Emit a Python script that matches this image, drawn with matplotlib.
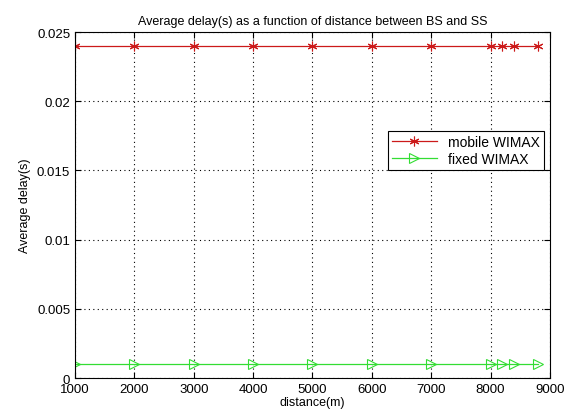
import matplotlib.pyplot as plt

plt.rcParams['font.family'] = ['Liberation Sans', 'DejaVu Sans']

# distance between BS and SS (m)
distance = [1000, 2000, 3000, 4000, 5000, 6000, 7000, 8000, 8200, 8400, 8800]
# average delay (s)
mobile_delay = [0.024] * 11
fixed_delay = [0.001] * 11

fig = plt.figure(figsize=(5.66, 4.14), dpi=100)
ax = fig.add_axes([0.1325, 0.0845, 0.839, 0.8355])

ax.plot(distance, mobile_delay, color='#cc1a1a', linewidth=0.9, marker=(6, 2, 0),
        markersize=7, markeredgewidth=0.8, label='mobile WIMAX')
ax.plot(distance, fixed_delay, color='#33dd33', linewidth=0.9, marker='>',
        markersize=7, markerfacecolor='none', markeredgewidth=0.8,
        label='fixed WIMAX')

ax.set_xlim(1000, 9000)
ax.set_ylim(0, 0.025)
ax.set_xticks(range(1000, 9001, 1000))
ax.set_yticks([0, 0.005, 0.01, 0.015, 0.02, 0.025])
ax.set_yticklabels(['0', '0.005', '0.01', '0.015', '0.02', '0.025'])
ax.grid(True, color='black', linestyle=(0, (1, 3)), linewidth=0.8)
ax.tick_params(direction='in', labelsize=9.5, length=4, top=True, right=True)
for s in ax.spines.values():
    s.set_linewidth(0.8)

ax.set_xlabel('distance(m)', fontsize=9, labelpad=1)
ax.set_ylabel('Average delay(s)', fontsize=9)
ax.set_title('Average delay(s) as a function of distance between BS and SS', fontsize=9)

leg = ax.legend(loc='upper left', bbox_to_anchor=(0.659, 0.714), fontsize=10,
                fancybox=False, framealpha=1, edgecolor='black',
                borderpad=0.3, labelspacing=0.2, handlelength=3.2,
                borderaxespad=0)
leg.get_frame().set_linewidth(0.8)

plt.savefig('out.png', dpi=100)
